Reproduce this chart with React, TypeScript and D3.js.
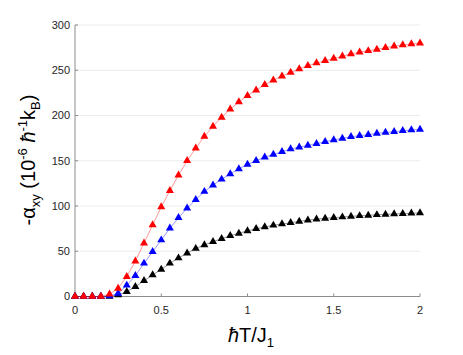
import React from 'react'
import * as d3 from 'd3'

// temperature grid (hbar T / J1)
const temps = [0, 0.05, 0.1, 0.15, 0.2, 0.25, 0.3, 0.35, 0.4, 0.45, 0.5, 0.55, 0.6, 0.65, 0.7, 0.75, 0.8, 0.85, 0.9, 0.95,
  1, 1.05, 1.1, 1.15, 1.2, 1.25, 1.3, 1.35, 1.4, 1.45, 1.5, 1.55, 1.6, 1.65, 1.7, 1.75, 1.8, 1.85, 1.9, 1.95, 2]

const redValues = [0, 0, 0, 0, 2.5, 9, 22, 39, 59, 79, 99, 117, 134, 150, 164, 177, 188, 198, 207, 215,
  222, 228, 234, 239, 243.5, 247.5, 251.5, 255, 258, 260.5, 263, 265.5, 268, 270, 271.5, 273, 275, 276.5, 278, 279, 280]

const blueValues = [0, 0, 0, 0, 0.5, 3.5, 12.4, 23, 36.7, 49.5, 62.4, 75.4, 87, 97.5, 107, 116, 123, 129.5, 135.5, 141,
  146, 150, 154, 157, 160, 163, 165, 167, 169, 171, 173, 174.8, 176.5, 177.7, 178.8, 180.2, 181.3, 182.1, 183.2, 184, 184.7]

const blackValues = [0, 0, 0, 0, 0, 1.6, 5.3, 10.8, 17.5, 23.8, 30, 36.7, 42.5, 48, 53, 57, 60.6, 63.9, 67.2, 69.8,
  72.5, 74.9, 76.8, 78.7, 80.1, 81.5, 83, 84.4, 85.5, 86.4, 87.1, 87.8, 88.6, 89.2, 89.7, 90.3, 90.8, 91.2, 91.6, 92, 92.3]

const xTicks = [0, 0.5, 1, 1.5, 2]
const yTicks = [0, 50, 100, 150, 200, 250, 300]

const series = [
  { name: 'black', values: blackValues, color: '#000000' },
  { name: 'blue', values: blueValues, color: '#0000ff' },
  { name: 'red', values: redValues, color: '#ff0000' },
]

const width = 463
const height = 355
const left = 75
const right = 420
const top = 25
const bottom = 296.5

export default function App() {
  const x = d3.scaleLinear().domain([0, 2]).range([left, right])
  const y = d3.scaleLinear().domain([0, 300]).range([bottom, top])

  const line = d3.line<number>()
    .x((d, i) => x(temps[i]))
    .y(d => y(d))

  const tri = d3.symbol().type(d3.symbolTriangle).size(28)()

  const font = 'Liberation Sans, Arial, sans-serif'

  return (
    <svg width={width} height={height} style={{ position: 'absolute', left: 0, top: 0, background: 'white' }}>
      {/* grid */}
      {yTicks.filter(t => t > 0).map(t => (
        <line key={'g' + t} x1={left} x2={right} y1={y(t)} y2={y(t)} stroke="#ebebeb" strokeWidth={1} />
      ))}
      {/* axes */}
      <line x1={left} x2={left} y1={top} y2={bottom} stroke="#8c8c8c" />
      <line x1={left} x2={right} y1={bottom} y2={bottom} stroke="#8c8c8c" />
      {yTicks.map(t => (
        <g key={'y' + t}>
          <line x1={left} x2={left + 3} y1={y(t)} y2={y(t)} stroke="#8c8c8c" />
          <text x={left - 5} y={y(t)} dy="0.35em" textAnchor="end" fontSize={11} fill="#262626" fontFamily={font}>{t}</text>
        </g>
      ))}
      {xTicks.map(t => (
        <g key={'x' + t}>
          <line x1={x(t)} x2={x(t)} y1={bottom} y2={bottom - 3} stroke="#8c8c8c" />
          <text x={x(t)} y={bottom + 17} textAnchor="middle" fontSize={11} fill="#262626" fontFamily={font}>{t}</text>
        </g>
      ))}
      {/* series */}
      {series.map(s => (
        <g key={s.name}>
          <path d={line(s.values) || ''} fill="none" stroke={s.color} strokeOpacity={0.5} strokeWidth={0.8} />
          {s.values.map((v, i) => (
            <path key={i} d={tri || ''} transform={`translate(${x(temps[i])},${y(v)})`} fill={s.color} />
          ))}
        </g>
      ))}
      {/* labels */}
      <text x={251} y={342} textAnchor="middle" fontSize={20} fontFamily={font} fill="#000">
        <tspan fontStyle="italic">ħ</tspan>T/J<tspan fontSize={13} dy={5}>1</tspan>
      </text>
      <text transform="translate(35,160) rotate(-90)" textAnchor="middle" fontSize={20} fontFamily={font} fill="#000">
        -α<tspan fontSize={13} dy={5}>xy</tspan>
        <tspan dy={-5}> (10</tspan>
        <tspan fontSize={13} dy={-8}>-6</tspan>
        <tspan dy={8}> </tspan>
        <tspan fontStyle="italic">ħ</tspan>
        <tspan fontSize={13} dy={-8}>-1</tspan>
        <tspan dy={8}>k</tspan>
        <tspan fontSize={13} dy={5}>B</tspan>
        <tspan dy={-5}>)</tspan>
      </text>
    </svg>
  )
}
